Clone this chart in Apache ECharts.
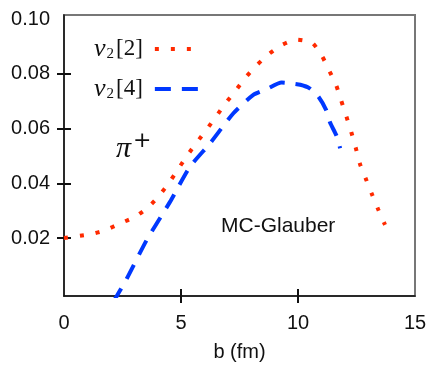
<!DOCTYPE html>
<html>
<head>
<meta charset="utf-8">
<script src="https://cdn.jsdelivr.net/npm/echarts@6/dist/echarts.min.js"></script>
<style>html,body{margin:0;padding:0;background:#fff}#c{width:436px;height:368px}</style>
</head>
<body>
<div id="c"></div>
<script>
// v2[2] (red dotted)
const b2 = [0, 1.08, 1.75, 2.39, 3.03, 3.58, 4.06, 4.49, 4.87, 5.27, 5.68, 6.1, 6.5, 6.91, 7.34, 7.76, 8.23, 8.75, 9.32, 9.94, 10.61, 11.03, 11.35, 11.64, 11.85, 12.08, 12.28, 12.47, 12.65, 12.91, 13.16, 13.43, 13.72];
const v22 = [0.0200, 0.0213, 0.0228, 0.0253, 0.0277, 0.0311, 0.0354, 0.0402, 0.0451, 0.0502, 0.0550, 0.0597, 0.0644, 0.0693, 0.0739, 0.0787, 0.0831, 0.0872, 0.0906, 0.0925, 0.0913, 0.0864, 0.0809, 0.0756, 0.0701, 0.0641, 0.0586, 0.0529, 0.0470, 0.0414, 0.0360, 0.0304, 0.0248];
// v2[4] (blue dashed)
const b4 = [2.1, 2.68, 3.53, 4.53, 5.38, 6.24, 7.24, 8.09, 8.66, 9.3, 9.8, 10.1, 10.48, 10.87, 11.2, 11.37, 11.65, 11.8];
const v24 = [-0.0035, 0.0051, 0.0192, 0.0332, 0.0460, 0.0546, 0.0656, 0.0723, 0.0744, 0.0768, 0.0764, 0.0760, 0.0748, 0.0717, 0.0668, 0.0622, 0.0573, 0.0528];
const xTickLabels = [0, 5, 10, 15];
const xTicks = [5, 10];
const yTickLabels = [0.02, 0.04, 0.06, 0.08, 0.10];
const seriesNames = ['v2[2]', 'v2[4]'];

const zip = (a, b) => a.map((x, i) => [x, b[i]]);
const chart = echarts.init(document.getElementById('c'), null, {renderer: 'canvas'});
const font = 'Liberation Sans, Arial, Helvetica, sans-serif';
const serif = 'Liberation Serif, Times New Roman, serif';

const xBase = {type: 'value', min: 0, max: 15, splitLine: {show: false}};
const yBase = {type: 'value', min: -0.0012, max: 0.1015, splitLine: {show: false}};

chart.setOption({
  animation: false,
  grid: {left: 64, right: 21, top: 15, bottom: 72, show: true, borderColor: '#777', borderWidth: 2, backgroundColor: 'transparent'},
  legend: {
    orient: 'vertical', left: 89, top: 31, align: 'right', itemWidth: 47, itemHeight: 10, itemGap: 14,
    data: seriesNames,
    itemStyle: {color: 'rgba(0,0,0,0)', borderWidth: 0, opacity: 0},
    lineStyle: {width: 4},
    formatter: n => '{v|v}{s|2}{n|[' + n.charAt(3) + ']}{g|}',
    textStyle: {
      rich: {
        v: {fontFamily: serif, fontStyle: 'italic', fontSize: 26, color: '#111'},
        s: {fontFamily: serif, fontSize: 15, color: '#111', padding: [10, 0, 0, 1]},
        n: {fontFamily: serif, fontSize: 23, color: '#111', padding: [0, 0, 0, 2]},
        g: {width: 7}
      }
    }
  },
  xAxis: [
    Object.assign({}, xBase, {
      position: 'bottom',
      axisLine: {onZero: false, lineStyle: {color: '#111', width: 1.5}},
      axisTick: {show: true, customValues: xTicks, length: 7, inside: false, lineStyle: {color: '#111', width: 2}},
      axisLabel: {customValues: xTickLabels, fontFamily: font, fontSize: 20, color: '#111', margin: 17},
      name: 'b (fm)', nameLocation: 'middle', nameGap: 46,
      nameTextStyle: {fontFamily: font, fontSize: 20, color: '#111'}
    }),
    Object.assign({}, xBase, {
      position: 'bottom',
      axisLine: {show: false, onZero: false},
      axisTick: {show: true, customValues: xTicks, length: 7, inside: true, lineStyle: {color: '#111', width: 2}},
      axisLabel: {show: false}
    })
  ],
  yAxis: [
    Object.assign({}, yBase, {
      position: 'left',
      axisLine: {show: true, onZero: false, lineStyle: {color: '#111', width: 1.5}},
      axisTick: {show: true, customValues: yTickLabels.slice(0, 4), length: 7, inside: false, lineStyle: {color: '#111', width: 2}},
      axisLabel: {customValues: yTickLabels, formatter: v => v.toFixed(2), fontFamily: font, fontSize: 20, color: '#111', margin: 14}
    }),
    Object.assign({}, yBase, {
      position: 'left',
      axisLine: {show: false, onZero: false},
      axisTick: {show: true, customValues: yTickLabels.slice(0, 4), length: 7, inside: true, lineStyle: {color: '#111', width: 2}},
      axisLabel: {show: false}
    })
  ],
  series: [
    {
      name: seriesNames[0], type: 'line', data: zip(b2, v22), symbol: 'none', smooth: 0.2,
      xAxisIndex: 0, yAxisIndex: 0, clip: true,
      lineStyle: {color: '#ff2a00', width: 4, type: [4, 12], cap: 'butt'},
      itemStyle: {color: '#ff2a00'}
    },
    {
      name: seriesNames[1], type: 'line', data: zip(b4, v24), symbol: 'none', smooth: 0.2,
      xAxisIndex: 0, yAxisIndex: 0, clip: true,
      lineStyle: {color: '#0038ff', width: 4, type: [16, 11], cap: 'butt'},
      itemStyle: {color: '#0038ff'}
    }
  ],
  graphic: [
    {type: 'text', left: 116, top: 130, style: {text: '{p|π}{q|+}', rich: {
      p: {fontFamily: serif, fontStyle: 'italic', fontSize: 30, fill: '#111'},
      q: {fontFamily: 'DejaVu Sans, sans-serif', fontSize: 22, fill: '#111', padding: [0, 0, 16, 2]}
    }}},
    {type: 'text', left: 221, top: 216, style: {text: 'MC-Glauber', fontFamily: font, fontSize: 21, fill: '#111'}}
  ]
});
</script>
</body>
</html>
